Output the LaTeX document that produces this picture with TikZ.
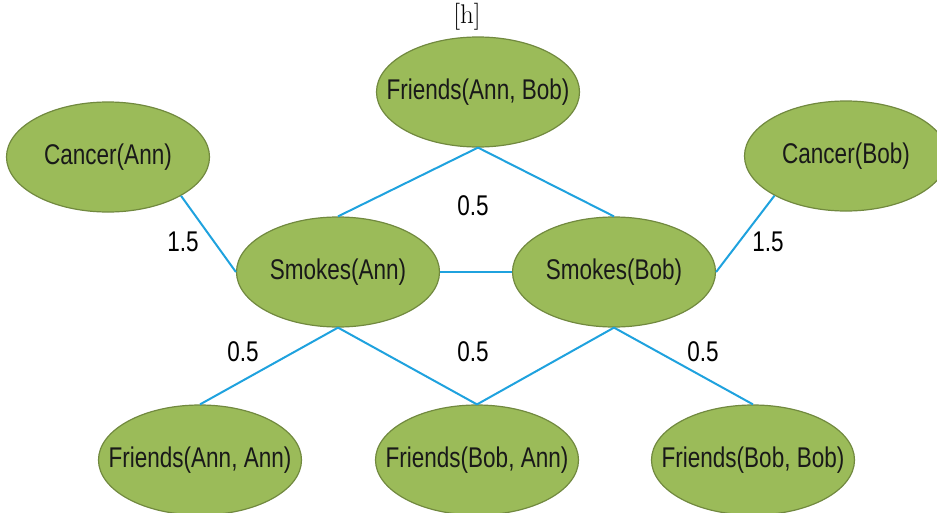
\documentclass[tikz,border=0pt]{standalone}
\usepackage{fontspec}
\usetikzlibrary{shapes.geometric}
\newfontfamily\narrowsans[FakeStretch=0.79]{Liberation Sans}
\definecolor{nodegreen}{HTML}{9BBB59}
\definecolor{nodeedge}{HTML}{71893F}
\definecolor{edgeblue}{HTML}{1FA2DE}
\begin{document}
\begin{tikzpicture}[x=1pt,y=-1pt,
  atom/.style={ellipse, draw=nodeedge, line width=1.2pt, fill=nodegreen,
    minimum width=203pt, minimum height=110pt, inner xsep=-70pt, inner ysep=0pt,
    text=black!90, font=\narrowsans\fontsize{28.5}{31}\selectfont},
  link/.style={draw=edgeblue, line width=2pt},
  wlabel/.style={font=\narrowsans\fontsize{28.5}{31}\selectfont, inner sep=0pt}]
\useasboundingbox (0,0) rectangle (937,512);
\clip (0,0) rectangle (937,512);
\node[font=\fontsize{27}{30}\selectfont, inner sep=0pt] (h) at (467,17) {[h]};
% nodes
\node[atom] (fab) at (478,92) {Friends(Ann, Bob)};
\node[atom] (ca) at (108,157) {Cancer(Ann)};
\node[atom] (cb) at (846,156) {Cancer(Bob)};
\node[atom] (sa) at (338,272) {Smokes(Ann)};
\node[atom] (sb) at (614,272) {Smokes(Bob)};
\node[atom] (faa) at (200,460) {Friends(Ann, Ann)};
\node[atom] (fba) at (477,460) {Friends(Bob, Ann)};
\node[atom] (fbb) at (753,460) {Friends(Bob, Bob)};
% connectors
\path[link] (fab.south) -- (sa.north);
\path[link] (fab.south) -- (sb.north);
\path[link] (ca.-28.4) -- (sa.west);
\path[link] (cb.-151.5) -- (sb.east);
\path[link] (sa.east) -- (sb.west);
\path[link] (sa.south) -- (faa.north);
\path[link] (sa.south) -- (fba.north);
\path[link] (sb.south) -- (fba.north);
\path[link] (sb.south) -- (fbb.north);
% weights
\node[wlabel] (w1) at (473,206) {0.5};
\node[wlabel] (w2) at (183,242) {1.5};
\node[wlabel] (w3) at (768,242) {1.5};
\node[wlabel] (w4) at (243,352) {0.5};
\node[wlabel] (w5) at (473,352) {0.5};
\node[wlabel] (w6) at (703,352) {0.5};
\end{tikzpicture}
\end{document}
